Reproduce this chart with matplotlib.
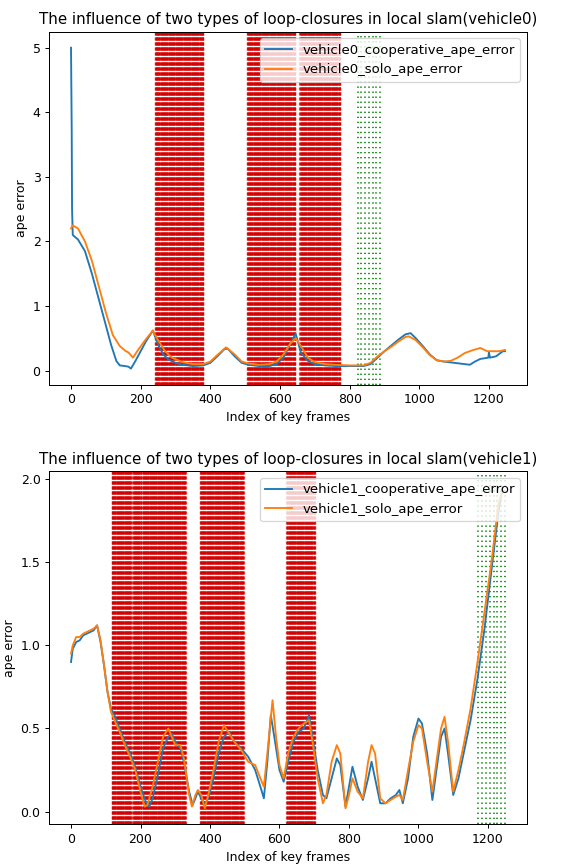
import numpy as np
import matplotlib
matplotlib.use("Agg")
import matplotlib.pyplot as plt
from matplotlib.ticker import MultipleLocator

# vehicle0 ape error curves (key frame index, ape error)
v0_coop_x = [0, 2, 3, 5, 20, 40, 60, 80, 100, 115, 130, 140, 155, 165, 172, 185, 200, 215, 235,
             250, 265, 280, 300, 320, 350, 380, 400, 420, 440, 450, 470, 490, 510, 540, 570, 590,
             610, 630, 645, 660, 680, 700, 730, 760, 800, 840, 860, 880, 900, 920, 940, 960, 975,
             990, 1010, 1030, 1050, 1070, 1100, 1130, 1145, 1160, 1175, 1198, 1200, 1203, 1220,
             1240, 1246]
v0_coop_y = [5.0, 3.7, 2.5, 2.1, 2.03, 1.85, 1.5, 1.1, 0.7, 0.4, 0.15, 0.08, 0.07, 0.06, 0.03,
             0.15, 0.3, 0.45, 0.62, 0.4, 0.25, 0.17, 0.12, 0.09, 0.07, 0.08, 0.12, 0.22, 0.33,
             0.34, 0.22, 0.12, 0.09, 0.07, 0.07, 0.1, 0.2, 0.42, 0.57, 0.28, 0.15, 0.1, 0.08,
             0.07, 0.07, 0.07, 0.1, 0.2, 0.3, 0.39, 0.48, 0.56, 0.58, 0.5, 0.38, 0.25, 0.16,
             0.14, 0.12, 0.1, 0.09, 0.14, 0.18, 0.2, 0.28, 0.2, 0.22, 0.3, 0.3]

v0_solo_x = [0, 5, 20, 40, 60, 80, 100, 120, 140, 155, 165, 178, 190, 210, 235, 250, 270, 290,
             320, 350, 380, 400, 420, 445, 470, 490, 510, 540, 570, 590, 610, 630, 645, 660,
             680, 700, 730, 760, 800, 840, 860, 880, 900, 920, 940, 960, 970, 990, 1010, 1030,
             1050, 1070, 1090, 1110, 1130, 1150, 1175, 1195, 1210, 1230, 1246]
v0_solo_y = [2.2, 2.25, 2.2, 2.0, 1.7, 1.3, 0.9, 0.55, 0.38, 0.31, 0.28, 0.2, 0.3, 0.45, 0.62,
             0.47, 0.3, 0.2, 0.13, 0.1, 0.1, 0.14, 0.24, 0.36, 0.25, 0.14, 0.11, 0.09, 0.1,
             0.14, 0.25, 0.42, 0.5, 0.38, 0.2, 0.13, 0.1, 0.09, 0.08, 0.08, 0.12, 0.22, 0.3,
             0.37, 0.45, 0.52, 0.53, 0.47, 0.36, 0.24, 0.16, 0.14, 0.15, 0.2, 0.27, 0.31, 0.35,
             0.3, 0.3, 0.3, 0.32]

# vehicle1 ape error curves
v1_coop_x = [0, 5, 15, 25, 35, 45, 55, 65, 75, 85, 95, 105, 115, 125, 140, 155, 170, 185, 200,
             215, 225, 235, 250, 265, 280, 290, 300, 315, 325, 340, 350, 358, 365, 375, 385,
             395, 410, 425, 440, 455, 470, 490, 510, 530, 545, 555, 565, 575, 585, 600, 612,
             625, 640, 655, 670, 685, 695, 710, 725, 735, 750, 765, 775, 790, 800, 810, 825,
             840, 855, 865, 875, 890, 905, 920, 935, 945, 955, 970, 985, 1000, 1010, 1025,
             1040, 1055, 1065, 1075, 1085, 1100, 1115, 1130, 1150, 1170, 1190, 1210, 1230, 1242]
v1_coop_y = [0.9, 0.98, 1.02, 1.03, 1.06, 1.07, 1.08, 1.09, 1.12, 1.02, 0.88, 0.72, 0.62, 0.58,
             0.5, 0.42, 0.35, 0.27, 0.15, 0.06, 0.03, 0.08, 0.22, 0.38, 0.45, 0.47, 0.42, 0.38,
             0.3, 0.12, 0.04, 0.08, 0.12, 0.08, 0.04, 0.08, 0.2, 0.35, 0.45, 0.48, 0.42, 0.38,
             0.33, 0.25, 0.15, 0.08, 0.3, 0.58, 0.45, 0.25, 0.18, 0.3, 0.42, 0.48, 0.5, 0.58,
             0.45, 0.25, 0.1, 0.08, 0.2, 0.32, 0.28, 0.03, 0.15, 0.27, 0.15, 0.07, 0.2, 0.3,
             0.2, 0.05, 0.05, 0.08, 0.1, 0.13, 0.05, 0.2, 0.45, 0.56, 0.53, 0.35, 0.07, 0.3,
             0.45, 0.5, 0.35, 0.1, 0.2, 0.35, 0.55, 0.8, 1.1, 1.45, 1.8, 1.95]

v1_solo_x = [0, 5, 15, 25, 35, 45, 55, 65, 75, 85, 95, 105, 115, 125, 140, 155, 170, 185, 200,
             212, 220, 235, 250, 265, 280, 290, 300, 315, 325, 340, 348, 358, 365, 375, 385,
             395, 410, 425, 440, 455, 470, 490, 510, 530, 545, 555, 565, 580, 590, 600, 612,
             625, 640, 655, 670, 685, 695, 710, 725, 735, 750, 765, 775, 790, 800, 810, 825,
             840, 855, 865, 875, 890, 905, 920, 935, 945, 955, 970, 985, 1000, 1010, 1025,
             1040, 1055, 1065, 1075, 1085, 1100, 1115, 1130, 1150, 1170, 1190, 1210, 1230, 1242]
v1_solo_y = [0.95, 1.0, 1.05, 1.05, 1.07, 1.08, 1.09, 1.1, 1.12, 1.03, 0.88, 0.72, 0.6, 0.55,
             0.48, 0.4, 0.33, 0.25, 0.12, 0.03, 0.04, 0.15, 0.3, 0.45, 0.5, 0.45, 0.4, 0.4,
             0.32, 0.1, 0.03, 0.1, 0.13, 0.1, 0.02, 0.1, 0.25, 0.42, 0.52, 0.47, 0.42, 0.37,
             0.3, 0.28, 0.2, 0.15, 0.35, 0.67, 0.45, 0.28, 0.2, 0.35, 0.45, 0.5, 0.53, 0.55,
             0.42, 0.2, 0.05, 0.1, 0.3, 0.4, 0.35, 0.02, 0.1, 0.2, 0.12, 0.08, 0.3, 0.4, 0.35,
             0.08, 0.05, 0.07, 0.09, 0.1, 0.07, 0.25, 0.42, 0.52, 0.5, 0.3, 0.12, 0.35, 0.5,
             0.57, 0.42, 0.12, 0.25, 0.4, 0.62, 0.9, 1.2, 1.5, 1.85, 1.93]

# key frames where loop-closures happened (ranges are inclusive)
v0_coop_loop_ranges = [(241, 380), (505, 644), (656, 773)]
v0_solo_loop_frames = [824, 834, 845, 856, 866, 876, 887]
v1_coop_loop_ranges = [(117, 173), (176, 177), (179, 203), (206, 330), (371, 497), (620, 702)]
v1_solo_loop_frames = [1172, 1183, 1194, 1205, 1216, 1227, 1238, 1249]


def draw_loop_closures(ax, coop_ranges, solo_frames):
    for start, end in coop_ranges:
        for f in np.arange(start, end + 1):
            ax.axvline(f, color='#d40000', lw=1, alpha=0.7, linestyle=(0, (2.4, 1.6)), zorder=1)
    for f in solo_frames:
        ax.axvline(f, color='g', lw=1.3, linestyle=(0, (0.8, 2.3)), zorder=1)


def draw_panel(ax, name, coop_x, coop_y, solo_x, solo_y, coop_ranges, solo_frames):
    draw_loop_closures(ax, coop_ranges, solo_frames)
    ax.plot(coop_x, coop_y, label=name + "_cooperative_ape_error", zorder=3)
    ax.plot(solo_x, solo_y, label=name + "_solo_ape_error", zorder=3)
    ax.set_title("The influence of two types of loop-closures in local slam(" + name + ")")
    ax.set_xlabel("Index of key frames")
    ax.set_ylabel("ape error")
    ax.legend(loc="upper right", fontsize=10.6)


fig, (ax1, ax2) = plt.subplots(nrows=2, ncols=1, figsize=(563 / 90, 868 / 90), dpi=90)

draw_panel(ax1, "vehicle0", v0_coop_x, v0_coop_y, v0_solo_x, v0_solo_y,
           v0_coop_loop_ranges, v0_solo_loop_frames)
draw_panel(ax2, "vehicle1", v1_coop_x, v1_coop_y, v1_solo_x, v1_solo_y,
           v1_coop_loop_ranges, v1_solo_loop_frames)
ax2.yaxis.set_major_locator(MultipleLocator(0.5))

fig.subplots_adjust(left=0.0876, right=0.9355, top=0.9635, bottom=0.0503, hspace=0.2455)
fig.savefig("out.png", dpi=90)
